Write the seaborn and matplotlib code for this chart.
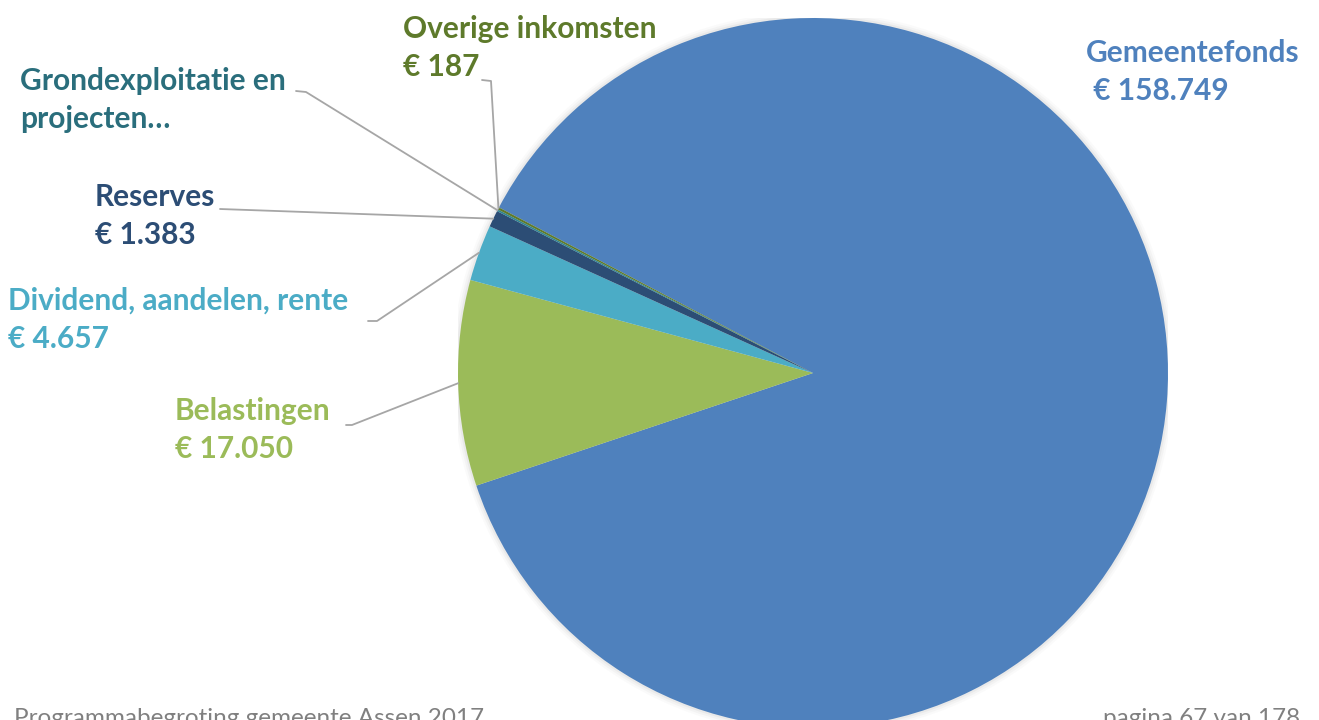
import matplotlib
matplotlib.use("Agg")
import matplotlib.pyplot as plt
import seaborn as sns
import numpy as np

sns.set_theme(style="white")
plt.rcParams['font.family'] = ['Lato', 'DejaVu Sans']

# data (x € 1.000)
categories = ['Gemeentefonds', 'Belastingen', 'Dividend, aandelen, rente',
              'Reserves', 'Grondexploitatie en projecten', 'Overige inkomsten']
values = [158749, 17050, 4657, 1383, 150, 187]
label_texts = ['Gemeentefonds\n € 158.749', 'Belastingen\n€ 17.050',
               'Dividend, aandelen, rente\n€ 4.657', 'Reserves\n€ 1.383',
               'Grondexploitatie en\nprojecten…', 'Overige inkomsten\n€ 187']
colors = ['#4F81BD', '#9BBB59', '#4BACC6', '#2C4D75', '#2F8494', '#5E7A2B']
text_colors = ['#4F81BD', '#9BBB59', '#4BACC6', '#2C4D75', '#2A6E7C', '#5E7A2B']

W, H = 1319, 720
cx, cy, R = 813, 373, 355

fig = plt.figure(figsize=(W / 100, H / 100), dpi=100)
fig.patch.set_facecolor('white')
ax = fig.add_axes([(cx - R) / W, (H - cy - R) / H, 2 * R / W, 2 * R / H])
ax.set_xlim(-1, 1)
ax.set_ylim(-1, 1)
ax.axis('off')


def px(x, y):
    # pixel position -> data coords of the pie axes
    return (x - cx) / R, (cy - y) / R


# soft shadow round the pie
for r, a in [(1.018, 0.03), (1.012, 0.05), (1.006, 0.08)]:
    ax.add_patch(plt.Circle((0, 0), r, color='#7f7f7f', alpha=a, lw=0, zorder=0))

wedges, _ = ax.pie(values, colors=colors, startangle=152.2, counterclock=False,
                   radius=1, wedgeprops=dict(linewidth=0), frame=False)
ax.set_xlim(-1, 1)
ax.set_ylim(-1, 1)

# label anchors (top-left of text block) and leader elbows, in pixels
label_pos = [(1086, 39), (175, 397), (8, 287), (95, 183), (20, 67), (403, 15)]
leaders = [None,
           [(346, 425), (352, 425)],
           [(368, 321), (377, 321)],
           [(220, 209), (220, 209)],
           [(296, 91), (306, 92)],
           [(482, 80), (491, 81)]]

for w, txt, tc, lp, ld in zip(wedges, label_texts, text_colors, label_pos, leaders):
    x, y = px(*lp)
    ax.text(x, y, txt, color=tc, fontsize=21.5, fontweight='bold', ha='left', va='top',
            linespacing=1.45, zorder=5)
    if ld is None:
        continue
    mid = np.deg2rad((w.theta1 + w.theta2) / 2)
    ex, ey = np.cos(mid), np.sin(mid)
    p0 = px(*ld[0])
    p1 = px(*ld[1])
    ax.plot([p0[0], p1[0], ex], [p0[1], p1[1], ey], color='#A6A6A6', lw=1.3,
            zorder=4, clip_on=False)

# page footer, cut off at the bottom edge as in the source
fig.text(14 / W, (H - 708) / H, 'Programmabegroting gemeente Assen 2017', color='#808080',
         fontsize=17.5, ha='left', va='top', family=['Lato', 'DejaVu Sans'])
fig.text(1300 / W, (H - 708) / H, 'pagina 67 van 178', color='#808080',
         fontsize=17.5, ha='right', va='top', family=['Lato', 'DejaVu Sans'])

fig.savefig('out.png', dpi=100, facecolor='white')
